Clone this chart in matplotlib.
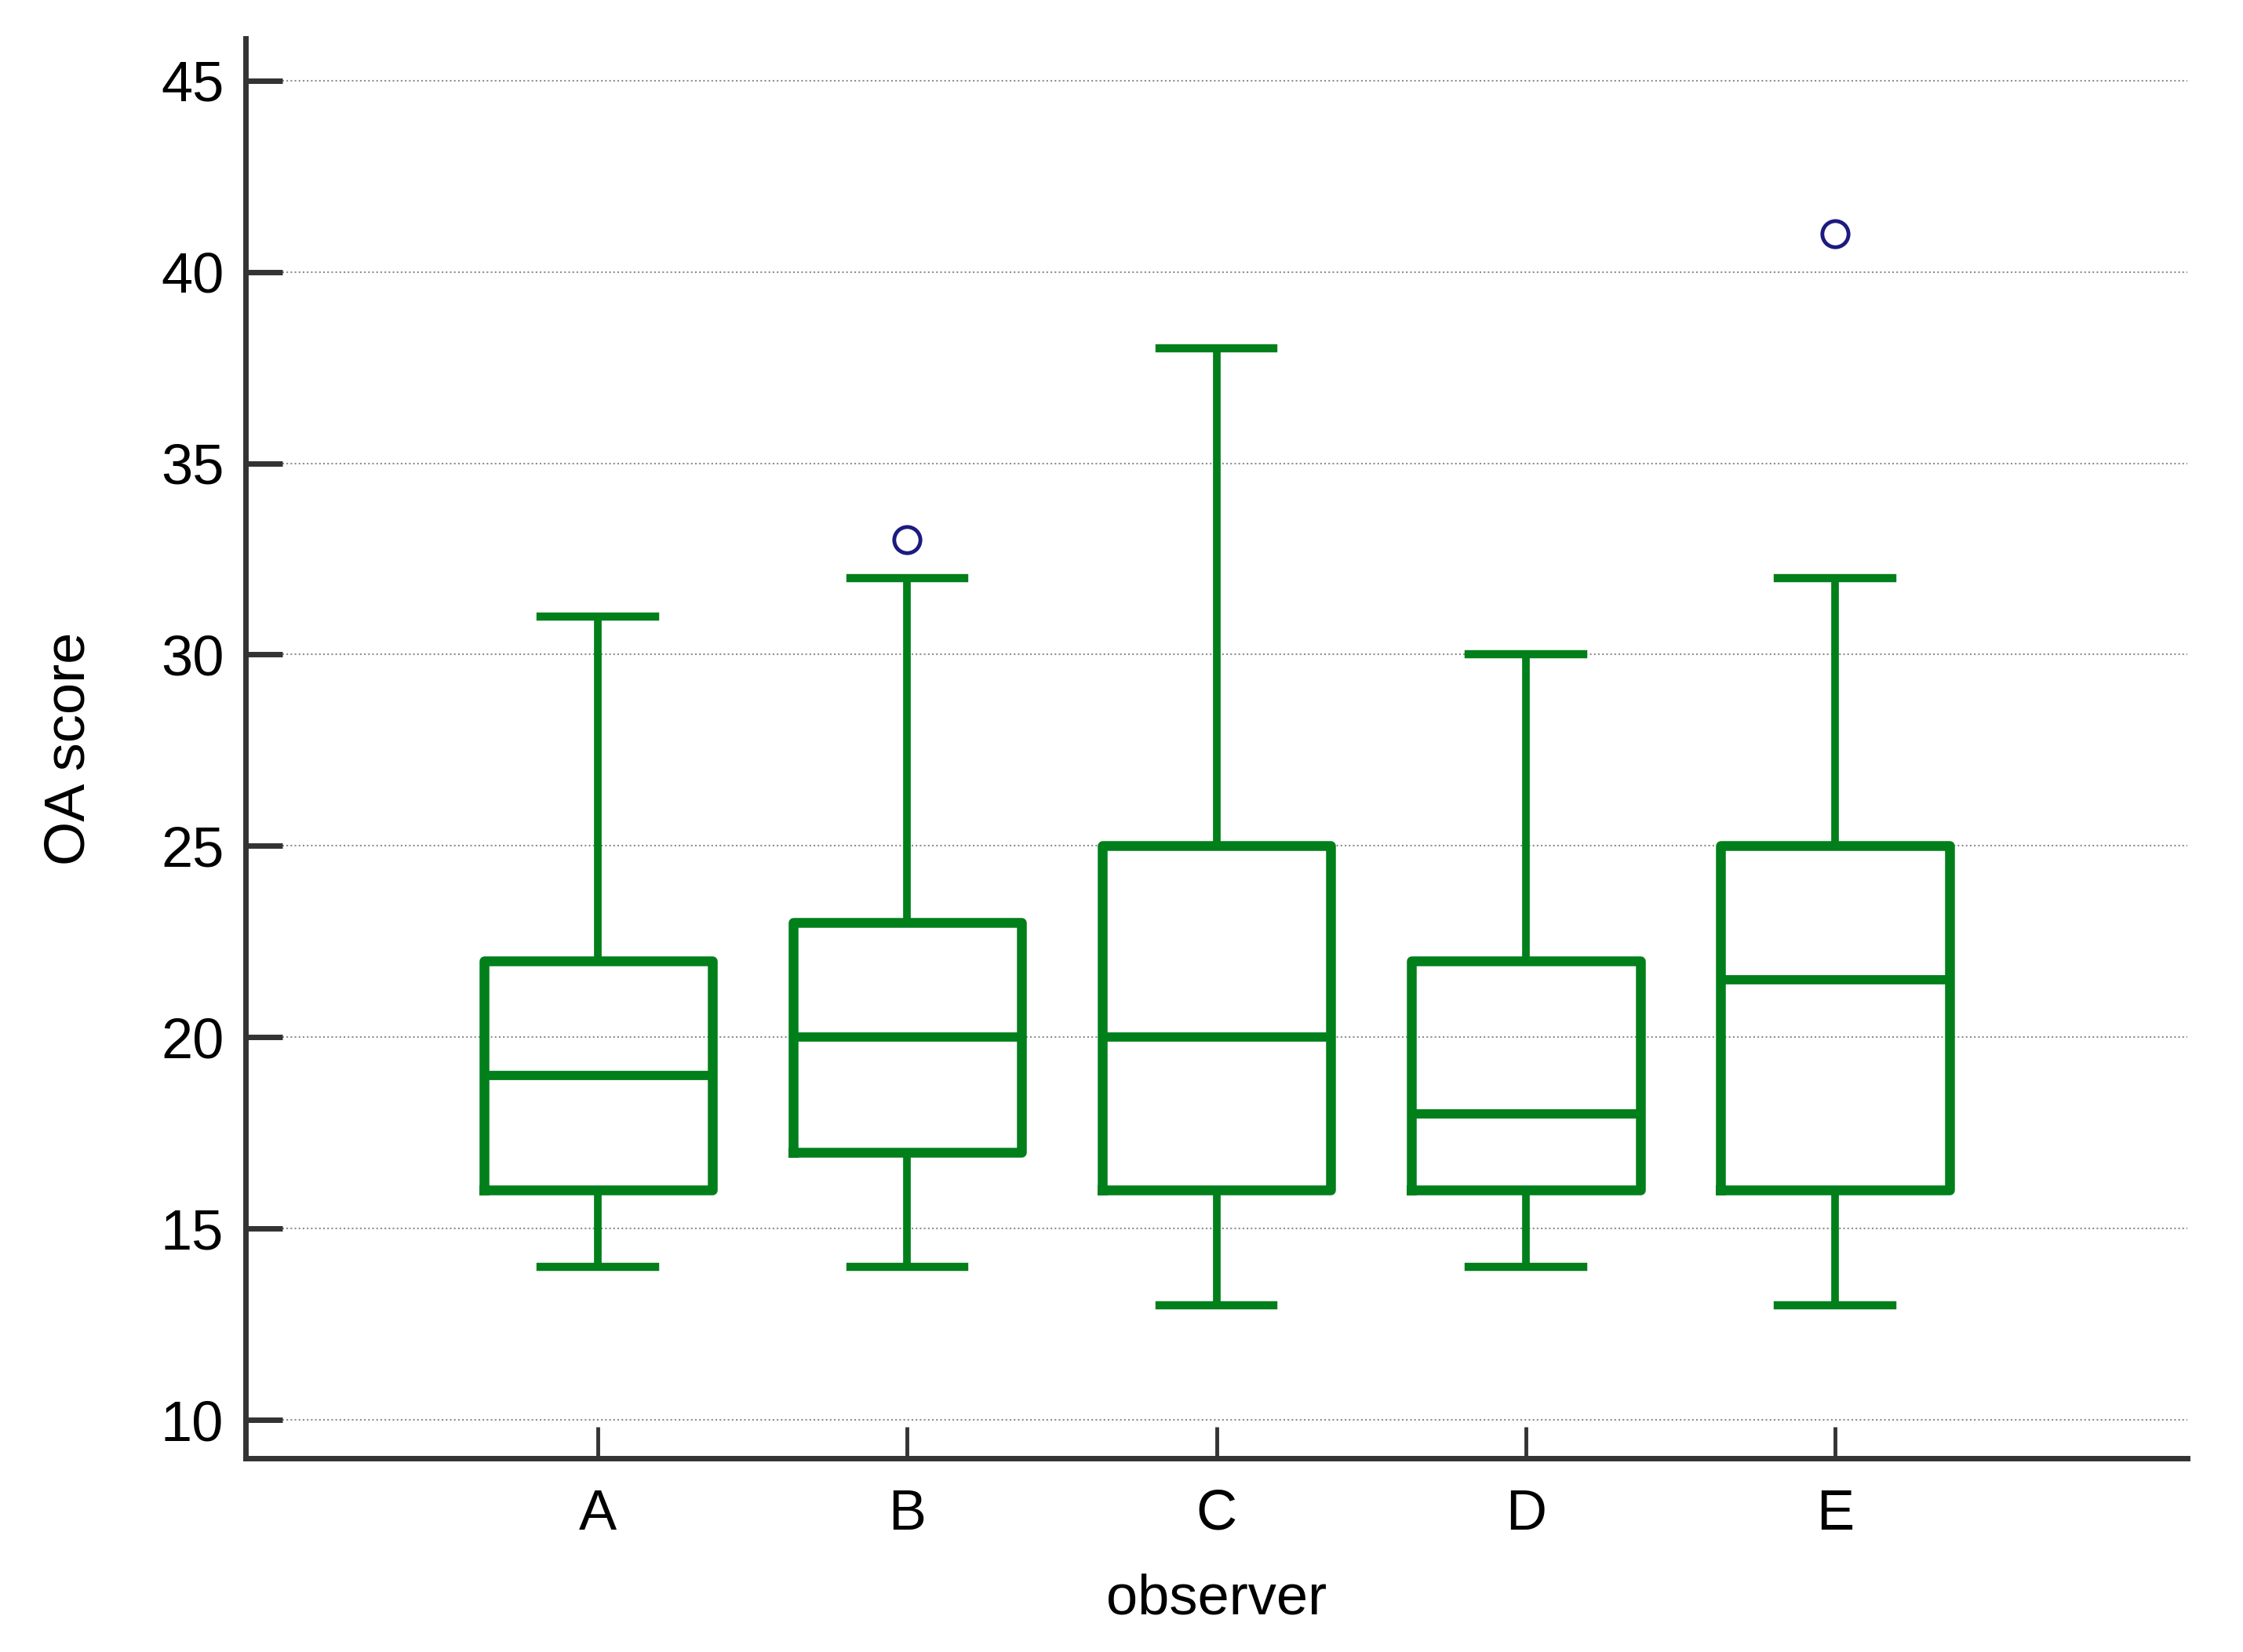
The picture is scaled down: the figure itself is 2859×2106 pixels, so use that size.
import matplotlib
matplotlib.use("Agg")
import matplotlib.pyplot as plt

# box statistics
observers = ["A", "B", "C", "D", "E"]
whislo = [14, 14, 13, 14, 13]
q1 = [16, 17, 16, 16, 16]
med = [19, 20, 20, 18, 21.5]
q3 = [22, 23, 25, 22, 25]
whishi = [31, 32, 38, 30, 32]
outliers = [[], [33], [], [], [41]]
y_ticks = [10, 15, 20, 25, 30, 35, 40, 45]

green = "#007f1a"
axis_col = "#333333"

plt.rcParams['font.family'] = ['Liberation Sans', 'DejaVu Sans']

stats = []
for i, name in enumerate(observers):
    stats.append(dict(label=name, whislo=whislo[i], q1=q1[i], med=med[i],
                      q3=q3[i], whishi=whishi[i], fliers=outliers[i]))

fig = plt.figure(figsize=(28.59, 21.06), dpi=100)
ax = fig.add_axes([0.1095, 0.1173, 0.8657, 0.8594])

ax.bxp(stats, positions=range(1, len(observers) + 1), widths=0.74, capwidths=0.37,
       showfliers=True,
       boxprops=dict(color=green, linewidth=9),
       medianprops=dict(color=green, linewidth=8.5),
       whiskerprops=dict(color=green, linewidth=7),
       capprops=dict(color=green, linewidth=7.5),
       flierprops=dict(marker='o', markersize=24, markerfacecolor='none',
                       markeredgecolor='#1b1b80', markeredgewidth=3.5))

ax.set_xlim(-0.14, 6.14)
ax.set_ylim(9, 46.1)
ax.set_yticks(y_ticks)

# grid
ax.yaxis.grid(True, linestyle=(0, (1, 1.5)), color='#8f8f8f', linewidth=1.5)
ax.set_axisbelow(True)

# spines
for s in ['top', 'right']:
    ax.spines[s].set_visible(False)
for s in ['left', 'bottom']:
    ax.spines[s].set_linewidth(5)
    ax.spines[s].set_color(axis_col)

ax.tick_params(axis='y', direction='in', length=34, width=5, color=axis_col,
               pad=20, labelsize=52)
ax.tick_params(axis='x', direction='in', length=29, width=3.5, color=axis_col,
               pad=28, labelsize=52)

ax.set_ylabel("OA score", fontsize=52)
ax.set_xlabel("observer", fontsize=52)
ax.yaxis.set_label_coords(-0.0768, 0.5)
ax.xaxis.set_label_coords(0.5, -0.0812)

fig.savefig("out.png", dpi=100)
